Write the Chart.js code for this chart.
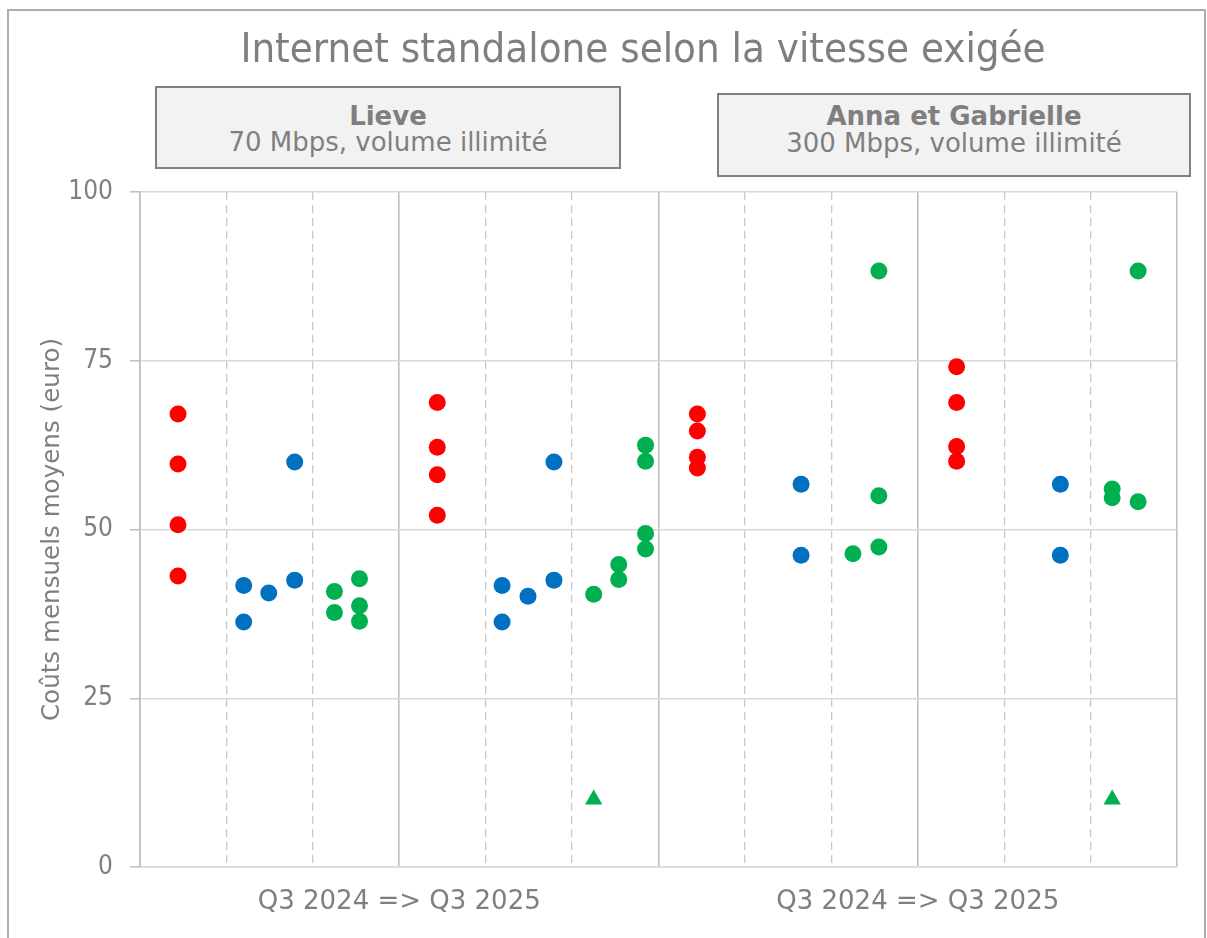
<!DOCTYPE html>
<html>
<head>
<meta charset="utf-8">
<script src="https://cdn.jsdelivr.net/npm/chart.js@4"></script>
<style>
  html, body { margin: 0; padding: 0; background: #fff; }
  #wrap { position: relative; width: 1207px; height: 938px; overflow: hidden;
          font-family: "DejaVu Sans", sans-serif; color: #7f7f7f; }
  #frame { position: absolute; left: 7px; top: 9px; width: 1195px; height: 980px; border: 2px solid #adadad; }
  canvas { position: absolute; left: 0; top: 0; }
  .title { position: absolute; left: 143px; width: 1000px; top: 27px; font-family: "DejaVu Sans Condensed", "DejaVu Sans", sans-serif;
           font-size: 41.6px; line-height: 42px; text-align: center; white-space: nowrap; }
  .box { position: absolute; background: #f2f2f2; border: 2px solid #808080; box-sizing: border-box; }
  .line { position: absolute; text-align: center; white-space: nowrap; font-size: 26px; line-height: 26px; }
  .line.bold { font-weight: bold; }
</style>
</head>
<body>
<div id="wrap">
  <div id="frame"></div>
  <canvas id="chart" width="1207" height="938"></canvas>
  <div class="title">Internet standalone selon la vitesse exigée</div>
</div>
<script>
// Monthly average cost (euro) per offer; x = column slot (12 columns, 6 per profile)
const profiles = [
  { name: 'Lieve', detail: '70 Mbps, volume illimité' },
  { name: 'Anna et Gabrielle', detail: '300 Mbps, volume illimité' },
];
const periodLabel = 'Q3 2024 => Q3 2025';

const redPoints = [
  [0.44, 67.1], [0.44, 59.7], [0.44, 50.7], [0.44, 43.1],
  [3.44, 68.8], [3.44, 62.2], [3.44, 58.1], [3.44, 52.1],
  [6.45, 67.1], [6.45, 64.6], [6.45, 60.7], [6.45, 59.1],
  [9.45, 74.1], [9.45, 68.8], [9.45, 62.3], [9.45, 60.1],
];
const bluePoints = [
  [1.2, 41.7], [1.2, 36.3], [1.49, 40.6], [1.79, 60.0], [1.79, 42.5],
  [4.19, 41.7], [4.19, 36.3], [4.49, 40.1], [4.79, 60.0], [4.79, 42.5],
  [7.65, 56.7], [7.65, 46.2],
  [10.65, 56.7], [10.65, 46.2],
];
const greenPoints = [
  [2.25, 40.8], [2.25, 37.7], [2.54, 42.7], [2.54, 38.7], [2.54, 36.4],
  [5.25, 40.4], [5.54, 44.8], [5.54, 42.6], [5.85, 62.5], [5.85, 60.1], [5.85, 49.4], [5.85, 47.1],
  [8.25, 46.4], [8.55, 88.3], [8.55, 55.0], [8.55, 47.4],
  [11.25, 56.0], [11.25, 54.7], [11.55, 88.3], [11.55, 54.1],
];
const greenTriangles = [[5.25, 10], [11.25, 10]];

const yTicks = [0, 25, 50, 75, 100];
const yTitle = 'Coûts mensuels moyens (euro)';

const gray = '#7f7f7f';
const FONT = '"DejaVu Sans", sans-serif';
const FONT_C = '"DejaVu Sans Condensed", "DejaVu Sans", sans-serif';
const xy = (a) => a.map(([x, y]) => ({ x, y }));

// profile header boxes (HTML, above the plot)
const boxes = [
  { left: 155, top: 86, width: 466, height: 83, base1: 125, base2: 151 },
  { left: 717, top: 93, width: 474, height: 84, base1: 125, base2: 152 },
];
const wrap = document.getElementById('wrap');
profiles.forEach((p, i) => {
  const b = boxes[i];
  const box = document.createElement('div');
  box.className = 'box';
  Object.assign(box.style, { left: b.left + 'px', top: b.top + 'px', width: b.width + 'px', height: b.height + 'px' });
  wrap.append(box);
  const l1 = document.createElement('div');
  l1.className = 'line bold';
  l1.textContent = p.name;
  Object.assign(l1.style, { left: b.left + 'px', width: b.width + 'px', top: (b.base1 - 22) + 'px' });
  const l2 = document.createElement('div');
  l2.className = 'line';
  l2.textContent = p.detail;
  Object.assign(l2.style, { left: b.left + 'px', width: b.width + 'px', top: (b.base2 - 22) + 'px' });
  wrap.append(l1, l2);
});

const dot = (data, color) => ({
  data: xy(data), backgroundColor: color, borderWidth: 0,
  pointRadius: 8.5, pointHoverRadius: 8.5, showLine: false,
});

new Chart(document.getElementById('chart'), {
  type: 'scatter',
  data: {
    datasets: [
      dot(redPoints, '#ff0000'),
      dot(bluePoints, '#0070c0'),
      dot(greenPoints, '#00b050'),
      { ...dot(greenTriangles, '#00b050'), pointStyle: 'triangle', pointRadius: 10, pointHoverRadius: 10 },
    ],
  },
  options: {
    responsive: false,
    animation: false,
    devicePixelRatio: 1,
    layout: { padding: { left: 30, top: 192, right: 30, bottom: 0 } },
    plugins: { legend: { display: false }, tooltip: { enabled: false } },
    scales: {
      x: {
        type: 'linear', min: 0, max: 12,
        afterFit: (s) => { s.height = 71; },
        afterBuildTicks: (s) => { s.ticks = Array.from({ length: 13 }, (_, i) => ({ value: i })); },
        ticks: {
          autoSkip: false, maxRotation: 0, padding: 20, color: gray,
          font: { family: FONT, size: 26 },
          callback: (v) => (v % 6 === 3 ? periodLabel : ''),
        },
        grid: {
          drawTicks: false,
          color: (c) => (c.tick && c.tick.value % 3 === 0 ? '#bfbfbf' : '#c8c8c8'),
          lineWidth: (c) => (c.tick && c.tick.value % 3 === 0 ? 1.6 : 1.3),
        },
        border: {
          color: '#d9d9d9', width: 1.5,
          dash: (c) => (c.tick && c.tick.value % 3 !== 0 ? [8, 5] : []),
        },
      },
      y: {
        min: 0, max: 100,
        afterFit: (s) => { s.width = 110; },
        afterBuildTicks: (s) => { s.ticks = yTicks.map((v) => ({ value: v })); },
        ticks: { color: gray, padding: 17, font: { family: FONT_C, size: 26 } },
        grid: { color: '#d9d9d9', lineWidth: 1.5, tickLength: 10, tickColor: '#bfbfbf' },
        border: { color: '#bfbfbf', width: 1.6 },
        title: {
          display: true, text: yTitle, color: gray, padding: { top: 8, bottom: 0 },
          font: { family: FONT, size: 24.6 },
        },
      },
    },
  },
});
</script>
</body>
</html>
